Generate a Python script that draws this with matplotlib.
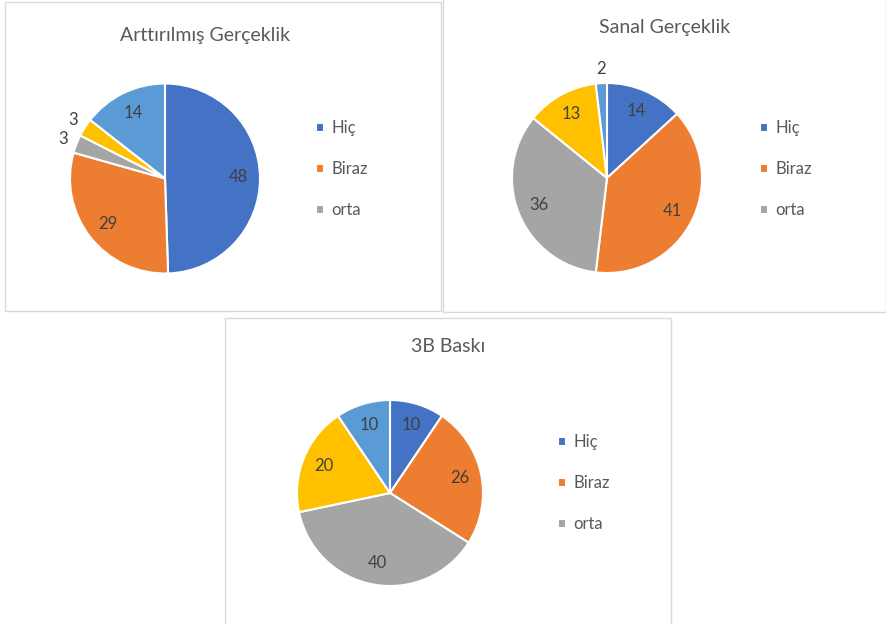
import matplotlib.pyplot as plt
from matplotlib.patches import Rectangle
import numpy as np

plt.rcParams['font.family'] = ['Lato', 'DejaVu Sans']

# data
legend_labels = ['Hiç', 'Biraz', 'orta']
colors = ['#4472C4', '#ED7D31', '#A5A5A5', '#FFC000', '#5B9BD5']

ar_title = 'Arttırılmış Gerçeklik'
ar_values = [48, 29, 3, 3, 14]

vr_title = 'Sanal Gerçeklik'
vr_values = [14, 41, 36, 13, 2]

print3d_title = '3B Baskı'
print3d_values = [10, 26, 40, 20, 10]

W, H = 886, 624
fig = plt.figure(figsize=(W / 100, H / 100), dpi=100)
fig.patch.set_facecolor('white')


def box(x0, y0, x1, y1):
    # chart area borders, given in pixels from top-left
    r = Rectangle((x0 / W, 1 - y1 / H), (x1 - x0) / W, (y1 - y0) / H,
                  transform=fig.transFigure, fill=False,
                  edgecolor='#D9D9D9', linewidth=1)
    fig.patches.append(r)


def pie_chart(values, title, cx, cy, r, title_xy, legend_xy):
    lim = 1.3
    size = 2 * lim * r
    ax = fig.add_axes([(cx - size / 2) / W, 1 - (cy + size / 2) / H, size / W, size / H])
    wedges, _ = ax.pie(values, colors=colors, startangle=90, counterclock=False,
                       wedgeprops=dict(edgecolor='white', linewidth=1.5))
    ax.set_xlim(-lim, lim)
    ax.set_ylim(-lim, lim)
    ax.set_aspect('equal')
    ax.axis('off')
    total = sum(values)
    for w, v in zip(wedges, values):
        ang = np.deg2rad((w.theta1 + w.theta2) / 2)
        d = 1.15 if v / total < 0.05 else 0.77
        ax.text(d * np.cos(ang), d * np.sin(ang), str(v), ha='center', va='center',
                fontsize=12, color='#404040')
    fig.text(title_xy[0] / W, 1 - title_xy[1] / H, title, ha='center', va='center',
             fontsize=14, color='#595959')
    ax.legend(wedges[:3], legend_labels, loc='center left',
              bbox_to_anchor=(legend_xy[0] / W, 1 - legend_xy[1] / H),
              bbox_transform=fig.transFigure, frameon=False, fontsize=12,
              handlelength=0.45, handleheight=0.45, handletextpad=0.45,
              labelspacing=1.5, borderpad=0, labelcolor='#595959')


box(5, 2, 441, 311)
box(443, -2, 886, 312)
box(225, 318, 671, 630)

pie_chart(ar_values, ar_title, 165, 178.5, 95, (205, 35), (308, 169))
pie_chart(vr_values, vr_title, 607, 178, 95, (665, 28), (752, 169))
pie_chart(print3d_values, print3d_title, 390, 493, 93, (448, 347), (550, 483))

fig.savefig('out.png', dpi=100, facecolor='white')
